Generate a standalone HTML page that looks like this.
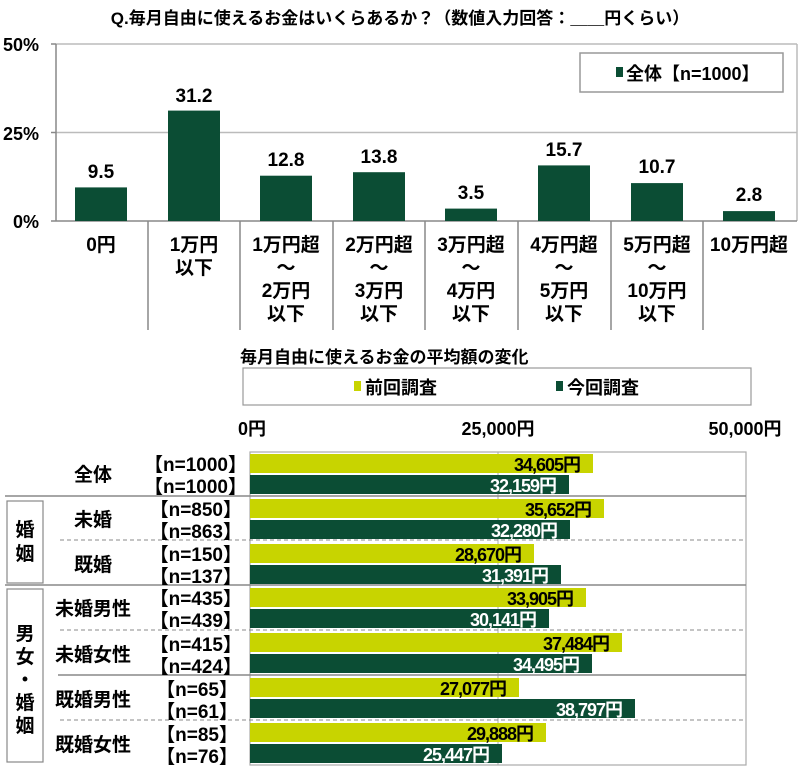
<!DOCTYPE html>
<html><head><meta charset="utf-8"><style>
html,body{margin:0;padding:0;background:#fff;}
svg text{font-family:"Liberation Sans","Noto Sans CJK JP",sans-serif;font-weight:bold;}
</style></head><body>
<svg width="800" height="775" viewBox="0 0 800 775" xmlns="http://www.w3.org/2000/svg">
<text x="400" y="24" font-size="17" text-anchor="middle">Q.毎月自由に使えるお金はいくらあるか？（数値入力回答：＿＿円くらい）</text>
<g stroke="#bbb" stroke-width="1.5" fill="none">
<line x1="56" y1="44" x2="797" y2="44"/>
<line x1="56" y1="132.5" x2="797" y2="132.5"/>
<line x1="797" y1="44" x2="797" y2="221"/>
</g>
<g stroke="#888" stroke-width="1.5">
<line x1="56" y1="44" x2="56" y2="221"/>
<line x1="56" y1="221" x2="797" y2="221"/>
<line x1="51" y1="44" x2="56" y2="44"/><line x1="51" y1="132.5" x2="56" y2="132.5"/><line x1="51" y1="221" x2="56" y2="221"/>
<line x1="148" y1="221" x2="148" y2="330"/><line x1="240" y1="221" x2="240" y2="330"/><line x1="333" y1="221" x2="333" y2="330"/><line x1="425" y1="221" x2="425" y2="330"/><line x1="518" y1="221" x2="518" y2="330"/><line x1="611" y1="221" x2="611" y2="330"/><line x1="703" y1="221" x2="703" y2="330"/>
</g>
<g font-size="18" text-anchor="end">
<text x="39" y="51">50%</text><text x="39" y="140">25%</text><text x="39" y="228">0%</text>
</g>
<rect x="580" y="53" width="203" height="39" fill="#fff" stroke="#999" stroke-width="1.5"/>
<rect x="616" y="67" width="7" height="10" fill="#0b4d34"/>
<text x="626" y="80" font-size="18">全体【n=1000】</text>
<g fill="#0b4d34">
<rect x="75" y="187.4" width="52" height="33.6"/>
<rect x="168" y="110.6" width="52" height="110.4"/>
<rect x="260" y="175.7" width="52" height="45.3"/>
<rect x="353" y="172.2" width="52" height="48.8"/>
<rect x="445" y="208.6" width="52" height="12.4"/>
<rect x="538" y="165.4" width="52" height="55.6"/>
<rect x="631" y="183.1" width="52" height="37.9"/>
<rect x="723" y="211.1" width="52" height="9.9"/>
</g>
<g font-size="19" text-anchor="middle">
<text x="101" y="178">9.5</text><text x="194" y="102">31.2</text><text x="286" y="166">12.8</text><text x="379" y="163">13.8</text><text x="471" y="199">3.5</text><text x="564" y="156">15.7</text><text x="657" y="173">10.7</text><text x="749" y="201">2.8</text>
</g>
<g font-size="19" text-anchor="middle">
<text x="101" y="251">0円</text>
<text x="194" y="251">1万円</text><text x="194" y="274">以下</text>
<text x="286" y="251">1万円超</text><text x="286" y="274">～</text><text x="286" y="297">2万円</text><text x="286" y="320">以下</text>
<text x="379" y="251">2万円超</text><text x="379" y="274">～</text><text x="379" y="297">3万円</text><text x="379" y="320">以下</text>
<text x="471" y="251">3万円超</text><text x="471" y="274">～</text><text x="471" y="297">4万円</text><text x="471" y="320">以下</text>
<text x="564" y="251">4万円超</text><text x="564" y="274">～</text><text x="564" y="297">5万円</text><text x="564" y="320">以下</text>
<text x="657" y="251">5万円超</text><text x="657" y="274">～</text><text x="657" y="297">10万円</text><text x="657" y="320">以下</text>
<text x="749" y="251">10万円超</text>
</g>

<text x="240" y="363" font-size="17">毎月自由に使えるお金の平均額の変化</text>
<rect x="243" y="368" width="508" height="37" fill="#fff" stroke="#999" stroke-width="1.2"/>
<rect x="354" y="381" width="7" height="10" fill="#c8d400"/>
<text x="365" y="394" font-size="18">前回調査</text>
<rect x="556" y="381" width="7" height="10" fill="#0b4d34"/>
<text x="567" y="394" font-size="18">今回調査</text>
<g font-size="18" text-anchor="middle">
<text x="252" y="435">0円</text><text x="498" y="435">25,000円</text><text x="745" y="435">50,000円</text>
</g>
<rect x="250" y="452" width="496" height="313" fill="none" stroke="#aaa" stroke-width="1.2"/>
<line x1="498" y1="452" x2="498" y2="765" stroke="#aaa" stroke-width="1"/>
<g stroke="#888" stroke-width="1.5">
<line x1="5" y1="496" x2="746" y2="496"/>
<line x1="5" y1="585" x2="746" y2="585"/>
<line x1="58" y1="675" x2="746" y2="675"/>
</g>
<g stroke="#888" stroke-width="1" stroke-dasharray="4,3">
<line x1="60" y1="540" x2="746" y2="540"/>
<line x1="60" y1="630" x2="746" y2="630"/>
<line x1="60" y1="720" x2="746" y2="720"/>
</g>
<rect x="7" y="501" width="36" height="82" fill="none" stroke="#888" stroke-width="1.2"/>
<rect x="7" y="589" width="36" height="173" fill="none" stroke="#888" stroke-width="1.2"/>
<g font-size="19" text-anchor="middle">
<text x="25" y="536">婚</text><text x="25" y="560">姻</text>
<text x="25" y="640">男</text><text x="25" y="663">女</text><text x="25" y="686">・</text><text x="25" y="709">婚</text><text x="25" y="732">姻</text>
</g>
<g font-size="19" text-anchor="middle">
<text x="93" y="481">全体</text>
<text x="93" y="526">未婚</text>
<text x="93" y="571">既婚</text>
<text x="93" y="615">未婚男性</text>
<text x="93" y="661">未婚女性</text>
<text x="93" y="706">既婚男性</text>
<text x="93" y="751">既婚女性</text>
</g>
<g font-size="19" text-anchor="end" font-weight="normal">
<text x="247" y="471">【n=1000】</text><text x="247" y="493">【n=1000】</text>
<text x="242" y="516">【n=850】</text><text x="242" y="538">【n=863】</text>
<text x="242" y="561">【n=150】</text><text x="242" y="583">【n=137】</text>
<text x="242" y="605">【n=435】</text><text x="242" y="627">【n=439】</text>
<text x="242" y="651">【n=415】</text><text x="242" y="673">【n=424】</text>
<text x="238" y="696">【n=65】</text><text x="238" y="718">【n=61】</text>
<text x="238" y="741">【n=85】</text><text x="238" y="763">【n=76】</text>
</g>
<g fill="#c8d400">
<rect x="250" y="454" width="343" height="19"/>
<rect x="250" y="499" width="354" height="19"/>
<rect x="250" y="544" width="284" height="19"/>
<rect x="250" y="588" width="336" height="19"/>
<rect x="250" y="633" width="372" height="19"/>
<rect x="250" y="678" width="269" height="19"/>
<rect x="250" y="723" width="296" height="19"/>
</g>
<g fill="#0b4d34">
<rect x="250" y="475" width="319" height="19"/>
<rect x="250" y="520" width="320" height="19"/>
<rect x="250" y="565" width="311" height="19"/>
<rect x="250" y="609" width="299" height="19"/>
<rect x="250" y="654" width="342" height="19"/>
<rect x="250" y="699" width="385" height="19"/>
<rect x="250" y="744" width="252" height="19"/>
</g>
<g font-size="18" text-anchor="end" letter-spacing="-1">
<text x="580" y="471">34,605円</text>
<text x="591" y="516">35,652円</text>
<text x="521" y="561">28,670円</text>
<text x="573" y="605">33,905円</text>
<text x="609" y="650">37,484円</text>
<text x="506" y="695">27,077円</text>
<text x="533" y="740">29,888円</text>
</g>
<g font-size="18" text-anchor="end" fill="#fff" letter-spacing="-1">
<text x="556" y="492">32,159円</text>
<text x="557" y="537">32,280円</text>
<text x="548" y="582">31,391円</text>
<text x="536" y="626">30,141円</text>
<text x="579" y="671">34,495円</text>
<text x="622" y="716">38,797円</text>
<text x="489" y="761">25,447円</text>
</g>
</svg>
</body></html>
